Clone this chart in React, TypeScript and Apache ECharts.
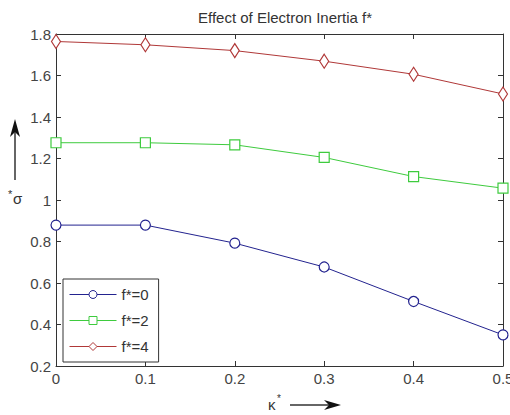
import React, { useEffect, useRef } from "react";
import * as echarts from "echarts";

const kappa = [0, 0.1, 0.2, 0.3, 0.4, 0.5];
const f0 = [0.879, 0.879, 0.792, 0.677, 0.511, 0.35];
const f2 = [1.276, 1.276, 1.266, 1.205, 1.113, 1.057];
const f4 = [1.764, 1.748, 1.72, 1.669, 1.606, 1.511];
const seriesNames = ["f*=0", "f*=2", "f*=4"];
const titleText = "Effect of Electron Inertia f*";

const FONT = "Liberation Sans, Arial, sans-serif";

export default function App() {
  const ref = useRef<HTMLDivElement>(null);
  useEffect(() => {
    if (!ref.current) return;
    const chart = echarts.init(ref.current, null, { renderer: "svg" });
    const pair = (ys: number[]) => kappa.map((x, i) => [x, ys[i]]);
    const axisCommon = {
      type: "value" as const,
      axisLine: { show: true, onZero: false, lineStyle: { color: "#333", width: 1 } },
      axisTick: { show: true, inside: true, length: 5, lineStyle: { color: "#333" } },
      splitLine: { show: false },
    };
    chart.setOption({
      animation: false,
      backgroundColor: "#fff",
      title: {
        text: titleText,
        left: 280,
        textAlign: "center",
        top: 5,
        textStyle: { fontFamily: FONT, fontSize: 15, fontWeight: "normal", color: "#333" },
      },
      grid: { left: 56, right: 7, top: 34, bottom: 49, containLabel: false, outerBoundsMode: "none" },
      legend: {
        orient: "vertical",
        left: 63,
        top: 279,
        itemWidth: 47,
        itemHeight: 10,
        itemGap: 11,
        padding: [8, 10, 8, 6],
        borderColor: "#333",
        borderWidth: 1,
        backgroundColor: "#fff",
        borderRadius: 0,
        itemStyle: { borderWidth: 1 },
        lineStyle: { width: 1 },
        textStyle: { fontFamily: FONT, fontSize: 15, color: "#333" },
        data: seriesNames,
      },
      xAxis: [
        {
          ...axisCommon,
          min: 0,
          max: 0.5,
          interval: 0.1,
          position: "bottom",
          axisLabel: { fontFamily: FONT, fontSize: 15, color: "#444", margin: 5 },
        },
        {
          ...axisCommon,
          min: 0,
          max: 0.5,
          interval: 0.1,
          position: "top",
          axisLabel: { show: false },
        },
      ],
      yAxis: [
        {
          ...axisCommon,
          min: 0.2,
          max: 1.8,
          interval: 0.2,
          position: "left",
          axisLabel: { fontFamily: FONT, fontSize: 15, color: "#444", margin: 5 },
        },
        {
          ...axisCommon,
          min: 0.2,
          max: 1.8,
          interval: 0.2,
          position: "right",
          axisLabel: { show: false },
        },
      ],
      series: [
        {
          name: seriesNames[0],
          type: "line",
          data: pair(f0),
          symbol: "circle",
          symbolSize: 10,
          showAllSymbol: true,
          lineStyle: { color: "#23238f", width: 1 },
          itemStyle: { color: "#fff", borderColor: "#23238f", borderWidth: 1.2 },
        },
        {
          name: seriesNames[1],
          type: "line",
          data: pair(f2),
          symbol: "rect",
          symbolSize: 10,
          lineStyle: { color: "#3ecb3e", width: 1 },
          itemStyle: { color: "#fff", borderColor: "#3ecb3e", borderWidth: 1.2 },
        },
        {
          name: seriesNames[2],
          type: "line",
          data: pair(f4),
          symbol: "diamond",
          symbolSize: [9, 14],
          lineStyle: { color: "#b03838", width: 1 },
          itemStyle: { color: "#fff", borderColor: "#b03838", borderWidth: 1.2 },
        },
      ],
      graphic: [
        // y-axis label arrow
        { type: "line", shape: { x1: 15, y1: 180, x2: 15, y2: 130 }, style: { stroke: "#333", lineWidth: 1.5 } },
        { type: "polygon", shape: { points: [[15, 119], [10, 137], [15, 132], [20, 137]] }, style: { fill: "#111" } },
        { type: "text", x: 8, y: 188, style: { text: "*", fontFamily: FONT, fontSize: 11, fill: "#333" } },
        { type: "text", x: 13, y: 191, style: { text: "σ", fontFamily: FONT, fontSize: 15, fill: "#333" } },
        // x-axis label arrow
        { type: "text", x: 268, y: 397, style: { text: "κ", fontFamily: FONT, fontSize: 15, fill: "#333" } },
        { type: "text", x: 277, y: 393, style: { text: "*", fontFamily: FONT, fontSize: 10, fill: "#333" } },
        { type: "line", shape: { x1: 290, y1: 405, x2: 332, y2: 405 }, style: { stroke: "#333", lineWidth: 1.5 } },
        { type: "polygon", shape: { points: [[341, 405], [324, 400], [329, 405], [324, 410]] }, style: { fill: "#111" } },
      ],
    });
    return () => chart.dispose();
  }, []);
  return <div ref={ref} style={{ position: "absolute", left: 0, top: 0, width: 510, height: 415 }} />;
}
